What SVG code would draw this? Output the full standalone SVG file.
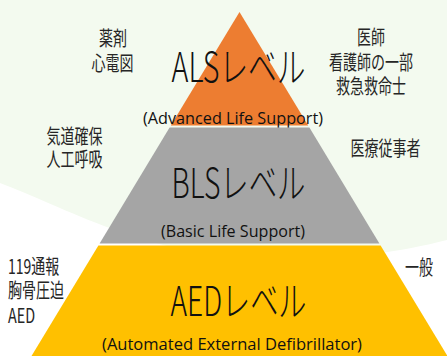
<svg xmlns="http://www.w3.org/2000/svg" width="447" height="356" viewBox="0 0 447 356">
  <style>
    .tier-title { font-family: "Noto Sans CJK JP", "Noto Sans", sans-serif; font-weight: 300; font-size: 41px; fill: #111; text-anchor: middle; }
    .tier-sub { font-family: "Open Sans", "Liberation Sans", sans-serif; font-size: 16px; fill: #111; text-anchor: middle; }
    .side { font-family: "Noto Sans CJK JP", "Noto Sans", sans-serif; font-size: 20px; fill: #262626; text-anchor: middle; }
    .start { text-anchor: start; }
  </style>

  <!-- backdrop: pale green field with a white sweep along the bottom -->
  <g id="backdrop">
    <rect x="0" y="0" width="447" height="356" fill="#ffffff"/>
    <path d="M0,0 H447 V240 C400,252 340,261 270,260 C150,258 60,205 0,183 Z" fill="#f3faef"/>
  </g>

  <!-- pyramid tiers -->
  <g id="tier-als">
    <polygon points="239.5,12 170.8,125.5 308.2,125.5" fill="#ed7d31"/>
    <text class="tier-title" x="238.5" y="82" textLength="134" lengthAdjust="spacingAndGlyphs">ALSレベル</text>
    <text class="tier-sub" x="233" y="123.5" textLength="180" lengthAdjust="spacingAndGlyphs">(Advanced Life Support)</text>
  </g>
  <g id="tier-bls">
    <polygon points="169.6,127.5 309.4,127.5 379.4,243.5 99.6,243.5" fill="#a5a5a5"/>
    <text class="tier-title" x="238.5" y="198" textLength="134" lengthAdjust="spacingAndGlyphs">BLSレベル</text>
    <text class="tier-sub" x="233" y="236.5" textLength="144" lengthAdjust="spacingAndGlyphs">(Basic Life Support)</text>
  </g>
  <g id="tier-aed">
    <polygon points="98.4,245.5 380.6,245.5 447.5,356 31.5,356" fill="#ffc000"/>
    <text class="tier-title" x="238.5" y="316" textLength="136" lengthAdjust="spacingAndGlyphs">AEDレベル</text>
    <text class="tier-sub" x="232" y="349.5" textLength="260" lengthAdjust="spacingAndGlyphs">(Automated External Defibrillator)</text>
  </g>

  <!-- side notes: what each level covers and who performs it;
       each line is narrowed horizontally by its own transform -->
  <g id="als-skills">
    <text class="side" transform="translate(113 45.5) scale(0.7 1)">薬剤</text>
    <text class="side" transform="translate(112.5 70.5) scale(0.7 1)">心電図</text>
  </g>
  <g id="als-staff">
    <text class="side" transform="translate(371 45) scale(0.7 1)">医師</text>
    <text class="side" transform="translate(371 70) scale(0.7 1)">看護師の一部</text>
    <text class="side" transform="translate(371 94) scale(0.7 1)">救急救命士</text>
  </g>
  <g id="bls-skills">
    <text class="side" transform="translate(74.5 143.5) scale(0.7 1)">気道確保</text>
    <text class="side" transform="translate(74.5 166.5) scale(0.7 1)">人工呼吸</text>
  </g>
  <g id="bls-staff">
    <text class="side" transform="translate(385.5 155.5) scale(0.7 1)">医療従事者</text>
  </g>
  <g id="aed-skills">
    <text class="side start" transform="translate(8 274) scale(0.7 1)">119通報</text>
    <text class="side start" transform="translate(8 297.5) scale(0.7 1)">胸骨圧迫</text>
    <text class="side start" transform="translate(8 322.5) scale(0.72 1)">AED</text>
  </g>
  <g id="aed-staff">
    <text class="side start" transform="translate(405 274.5) scale(0.7 1)">一般</text>
  </g>
</svg>
